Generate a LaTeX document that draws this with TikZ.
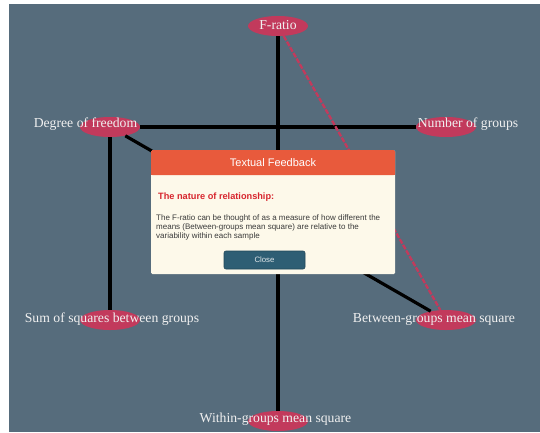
\documentclass[tikz,border=0pt]{standalone}
\usepackage{fontspec}
\setmainfont{Liberation Serif}
\newfontfamily\dlgfont{Liberation Sans}
\usetikzlibrary{shapes.geometric}
\definecolor{slate}{HTML}{566C7C}
\definecolor{blob}{HTML}{C23A5C}
\definecolor{hdr}{HTML}{E85A3C}
\definecolor{cream}{HTML}{FDF9EA}
\definecolor{ttl}{HTML}{D7262E}
\definecolor{btn}{HTML}{2E5E74}
\definecolor{btnedge}{HTML}{22485A}
\definecolor{bodytxt}{HTML}{3A3A3A}
\tikzset{
  blobnode/.style={ellipse, fill=blob, minimum width=60pt, minimum height=20pt, inner sep=0pt},
  lbl/.style={text=white!94!black, font=\fontsize{13.7}{15}\selectfont, inner sep=0pt},
  solidlink/.style={line width=3.2pt, black},
  redlink/.style={line width=2.3pt, blob, dash pattern=on 5pt off 1.5pt},
}
\begin{document}
\begin{tikzpicture}[x=1pt,y=-1pt]
\useasboundingbox (0,0) rectangle (540,432);
\fill[slate] (9,4) rectangle (540,432);
% concept blobs
\node[blobnode] (fr) at (278,26) {};
\node[blobnode] (dof) at (110,127) {};
\node[blobnode] (ng) at (446,127) {};
\node[blobnode] (ss) at (110,320) {};
\node[blobnode] (bg) at (446,320) {};
\node[blobnode] (wg) at (278,421) {};
% links
\draw[solidlink] (fr) -- (wg);
\draw[solidlink] (dof) -- (ng);
\draw[solidlink] (dof) -- (ss);
\draw[solidlink] (dof) -- (bg);
\draw[redlink] (fr) -- (bg);
% labels
\node[lbl] (tfr) at (278,25) {F-ratio};
\node[lbl] (tdof) at (85.5,124) {Degree of freedom};
\node[lbl] (tng) at (468,124) {Number of groups};
\node[lbl] (tss) at (112,319) {Sum of squares between groups};
\node[lbl] (tbg) at (434,319) {Between-groups mean square};
\node[lbl] (twg) at (275.5,419) {Within-groups mean square};
% dialog
\node[fill=cream, rounded corners=1.5pt, minimum width=244pt, minimum height=124pt, inner sep=0pt, anchor=north west] (dlg) at (151,150) {};
\fill[hdr, rounded corners=1.5pt] (151,150) rectangle (395,175);
\fill[hdr] (151,165) rectangle (395,175);
\node[text=white, font=\dlgfont\fontsize{11}{13}\selectfont] (dlgtitle) at (273,162.5) {Textual Feedback};
\node[text=ttl, font=\dlgfont\bfseries\fontsize{9.2}{11}\selectfont, anchor=west, inner sep=0pt] (rel) at (158,197) {The nature of relationship:};
\node[text=bodytxt, font=\dlgfont\fontsize{8}{9.2}\selectfont, anchor=north west, inner sep=0pt, align=left] (msg) at (156,214) {The F-ratio can be thought of as a measure of how different the\\means (Between-groups mean square) are relative to the\\variability within each sample};
\node[fill=btn, draw=btnedge, line width=0.6pt, rounded corners=2pt, minimum width=81pt, minimum height=18pt, inner sep=0pt, text=white!85!btn, font=\dlgfont\fontsize{7.8}{9}\selectfont] (close) at (264.5,260) {Close};
\end{tikzpicture}
\end{document}
